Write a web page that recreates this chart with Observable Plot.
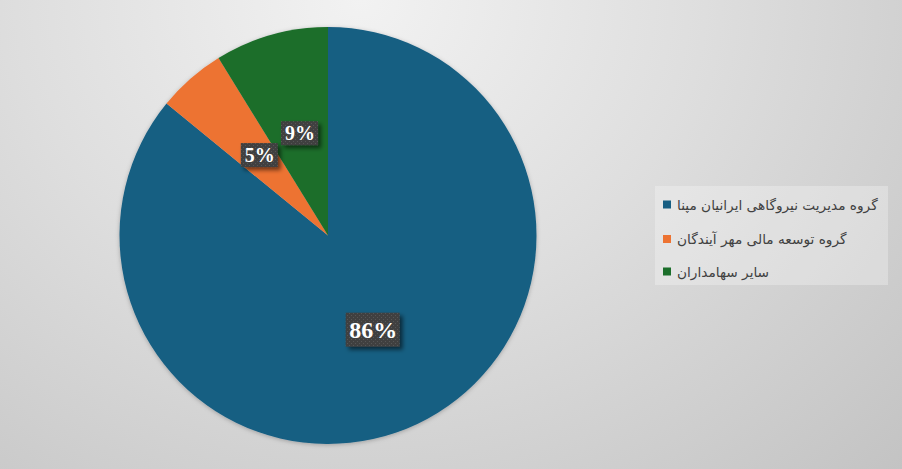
<!DOCTYPE html>
<html>
<head>
<meta charset="utf-8">
<script src="https://cdn.jsdelivr.net/npm/d3@7"></script>
<script src="https://cdn.jsdelivr.net/npm/@observablehq/plot@0.6"></script>
<style>
  html, body { margin: 0; padding: 0; }
  body { width: 902px; height: 469px; overflow: hidden; }
</style>
</head>
<body>
<div id="chart"></div>
<script>
// ---- data ----
const categories = ["گروه مدیریت نیروگاهی ایرانیان مپنا", "گروه توسعه مالی مهر آیندگان", "سایر سهامداران"];
const values = [85.9, 5.3, 8.8];
const labels = ["86%", "5%", "9%"];
const colors = ["#175e82", "#ed7332", "#1b6e2a"];

// ---- layout ----
const W = 902, H = 469;
const cx = 328, cy = 235.5, R = 208.5;

const arcs = d3.pie().sort(null).value(d => d)(values);
const rows = arcs.map((a, i) => {
  const mid = (a.startAngle + a.endAngle) / 2;
  return {
    cat: categories[i],
    label: labels[i],
    color: colors[i],
    arc: a,
    x: Math.sin(mid) * 0.5,
    y: -Math.cos(mid) * 0.5,
    big: i === 0
  };
});

function pieMark(index, scales) {
  const g = d3.create("svg:g");
  const ox = scales.x(0), oy = scales.y(0), rad = scales.x(1) - scales.x(0);
  const defs = g.append("defs");
  const f = defs.append("filter").attr("id", "pieShadow").attr("x", "-10%").attr("y", "-10%").attr("width", "120%").attr("height", "120%");
  f.append("feDropShadow").attr("dx", 0).attr("dy", 1).attr("stdDeviation", 2).attr("flood-color", "#000").attr("flood-opacity", 0.25);
  const arc = d3.arc().innerRadius(0).outerRadius(rad);
  g.append("g")
    .attr("transform", `translate(${ox},${oy})`)
    .attr("filter", "url(#pieShadow)")
    .selectAll("path")
    .data(rows)
    .join("path")
    .attr("d", d => arc(d.arc))
    .attr("fill", d => d.color);
  return g.node();
}

function boxMark(index, scales) {
  const g = d3.create("svg:g");
  const defs = g.append("defs");
  const p = defs.append("pattern").attr("id", "dots").attr("width", 4).attr("height", 4).attr("patternUnits", "userSpaceOnUse");
  p.append("rect").attr("width", 4).attr("height", 4).attr("fill", "#3f3f3f");
  p.append("rect").attr("x", 1).attr("y", 1).attr("width", 1).attr("height", 1).attr("fill", "#575757");
  p.append("rect").attr("x", 3).attr("y", 3).attr("width", 1).attr("height", 1).attr("fill", "#575757");
  const f = defs.append("filter").attr("id", "boxShadow").attr("x", "-30%").attr("y", "-30%").attr("width", "160%").attr("height", "160%");
  f.append("feDropShadow").attr("dx", 3).attr("dy", 3).attr("stdDeviation", 2).attr("flood-color", "#000").attr("flood-opacity", 0.55);
  g.selectAll("rect.box")
    .data(rows)
    .join("rect")
    .attr("class", "box")
    .attr("x", d => scales.x(d.x) - (d.big ? 27 : 18.5))
    .attr("y", d => scales.y(d.y) - (d.big ? 17 : 12) - (d.big ? 0 : 2))
    .attr("width", d => d.big ? 54 : 37)
    .attr("height", d => d.big ? 34 : 24)
    .attr("fill", "url(#dots)")
    .attr("filter", "url(#boxShadow)");
  return g.node();
}

function legendMark() {
  const g = d3.create("svg:g");
  const lx = 655, ly = 186, lw = 233, lh = 99;
  g.append("rect").attr("x", lx).attr("y", ly).attr("width", lw).attr("height", lh)
    .attr("fill", "#ffffff").attr("fill-opacity", 0.28);
  const rowY = [205, 239.5, 272];
  const items = g.selectAll("g.item").data(rows).join("g").attr("class", "item");
  items.append("rect")
    .attr("x", 663).attr("y", (d, i) => rowY[i] - 4.5)
    .attr("width", 8).attr("height", 8)
    .attr("fill", d => d.color);
  items.append("text")
    .attr("x", 677).attr("y", (d, i) => rowY[i])
    .attr("dy", "0.35em")
    .attr("text-anchor", "start")
    .attr("font-family", "'DejaVu Sans', sans-serif")
    .attr("font-size", 13.7)
    .attr("fill", "#404040")
    .text(d => d.cat);
  return g.node();
}

const chart = Plot.plot({
  width: W,
  height: H,
  margin: 0,
  style: {
    background: "radial-gradient(ellipse farthest-corner at 40% 0%, #f2f2f2 0%, #dedede 45%, #c3c3c3 100%)",
    overflow: "visible"
  },
  x: { domain: [-1, 1], range: [cx - R, cx + R], axis: null },
  y: { domain: [-1, 1], range: [cy - R, cy + R], axis: null },
  marks: [
    pieMark,
    boxMark,
    Plot.text(rows, {
      x: "x",
      y: d => d.y - (d.big ? 0 : 0.01),
      text: "label",
      fill: "white",
      fontWeight: "bold",
      fontFamily: "'Liberation Serif', 'DejaVu Serif', serif",
      fontSize: d => d.big ? 24 : 20
    }),
    legendMark
  ]
});
document.getElementById("chart").appendChild(chart);
</script>
</body>
</html>
